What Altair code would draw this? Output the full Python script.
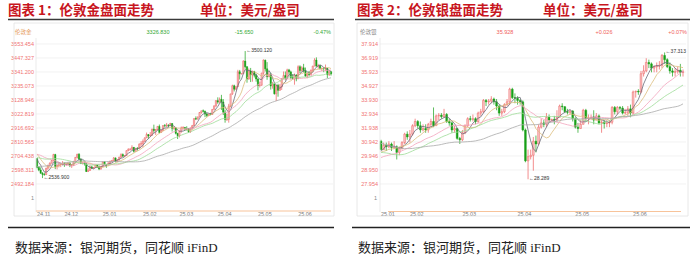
import altair as alt
import pandas as pd

W, H = 699, 263

# ------------------------------------------------------------------ data
# London gold, daily, 2024-11-11 .. 2025-06-26
gold_prior_close = [2513, 2512, 2484, 2512, 2518, 2525, 2504, 2521, 2503,
                    2500, 2493, 2495, 2516, 2497, 2506, 2516, 2512, 2558, 2578, 2582,
                    2569, 2559, 2587, 2622, 2629, 2657, 2657, 2672, 2658, 2634,
                    2663, 2658, 2656, 2653, 2644, 2622, 2608, 2630, 2657, 2649,
                    2662, 2674, 2693, 2721, 2719, 2749, 2714, 2736, 2747, 2742,
                    2774, 2788, 2744, 2736, 2736, 2742, 2659, 2706, 2685]
gold_open = [2685, 2618, 2598, 2573, 2565, 2563, 2612, 2631, 2650, 2670,
             2715, 2625, 2633, 2638, 2640, 2650, 2640, 2643, 2650, 2632,
             2633, 2660, 2694, 2718, 2680, 2648, 2652, 2646, 2587, 2595,
             2622, 2612, 2617, 2634, 2621, 2606, 2625, 2658, 2640, 2636,
             2648, 2662, 2670, 2690, 2663, 2677, 2696, 2715, 2703, 2708,
             2745, 2755, 2755, 2770, 2740, 2763, 2760, 2795, 2798, 2815,
             2842, 2867, 2856, 2861, 2908, 2898, 2905, 2929, 2883, 2898,
             2935, 2933, 2939, 2936, 2951, 2915, 2917, 2876, 2858, 2893,
             2918, 2920, 2911, 2910, 2889, 2917, 2934, 2988, 2984, 3001,
             3034, 3047, 3044, 3022, 3011, 3020, 3019, 3058, 3085, 3124,
             3113, 3134, 3114, 3037, 2982, 2982, 3083, 3175, 3237, 3211,
             3230, 3343, 3327, 3327, 3424, 3381, 3288, 3349, 3319, 3344,
             3317, 3288, 3239, 3241, 3333, 3431, 3365, 3306, 3325, 3236,
             3249, 3176, 3240, 3202, 3229, 3289, 3314, 3295, 3357, 3342,
             3300, 3289, 3317, 3289, 3381, 3353, 3373, 3352, 3310, 3326,
             3323, 3354, 3386, 3432, 3385, 3388, 3369, 3370, 3368, 3369,
             3322, 3342.48]
gold_close = [2618, 2598, 2573, 2565, 2563, 2612, 2631, 2650, 2670, 2715,
              2625, 2633, 2638, 2640, 2650, 2640, 2643, 2650, 2632, 2633,
              2660, 2694, 2718, 2680, 2648, 2652, 2646, 2587, 2595, 2622,
              2612, 2617, 2634, 2621, 2606, 2625, 2658, 2640, 2636, 2648,
              2662, 2670, 2690, 2663, 2677, 2696, 2715, 2703, 2708, 2745,
              2755, 2755, 2770, 2740, 2763, 2760, 2795, 2798, 2815, 2842,
              2867, 2856, 2861, 2908, 2898, 2905, 2929, 2883, 2898, 2935,
              2933, 2939, 2936, 2951, 2915, 2917, 2876, 2858, 2893, 2918,
              2920, 2911, 2910, 2889, 2917, 2934, 2988, 2984, 3001, 3034,
              3047, 3044, 3022, 3011, 3020, 3019, 3058, 3085, 3124, 3113,
              3134, 3114, 3037, 2982, 2983, 3083, 3175, 3237, 3211, 3230,
              3343, 3327, 3327, 3424, 3381, 3288, 3349, 3319, 3344, 3317,
              3288, 3239, 3241, 3333, 3431, 3365, 3306, 3325, 3236, 3249,
              3176, 3240, 3202, 3229, 3289, 3314, 3295, 3357, 3342, 3300,
              3289, 3317, 3289, 3381, 3353, 3373, 3352, 3310, 3326, 3323,
              3354, 3386, 3432, 3385, 3388, 3369, 3370, 3368, 3369, 3322,
              3342.48, 3326.83]
gold_high = [2686, 2626, 2618, 2582, 2578, 2615, 2639, 2656, 2673, 2721,
             2721, 2639, 2658, 2649, 2666, 2655, 2650, 2658, 2657, 2644,
             2668, 2697, 2721, 2726, 2687, 2660, 2656, 2653, 2611, 2632,
             2630, 2620, 2638, 2640, 2633, 2629, 2664, 2665, 2644, 2661,
             2671, 2675, 2696, 2692, 2679, 2698, 2725, 2724, 2711, 2746,
             2763, 2764, 2786, 2772, 2765, 2771, 2800, 2817, 2830, 2845,
             2882, 2870, 2886, 2911, 2942, 2909, 2931, 2943, 2904, 2938,
             2947, 2955, 2944, 2956, 2953, 2926, 2921, 2880, 2898, 2928,
             2930, 2925, 2930, 2915, 2920, 2940, 2990, 3005, 3002, 3038,
             3048, 3057, 3048, 3033, 3027, 3032, 3059, 3087, 3128, 3149,
             3148, 3168, 3136, 3055, 3023, 3100, 3176, 3245, 3245, 3232,
             3358, 3357, 3331, 3430, 3500.12, 3386, 3368, 3372, 3352, 3350,
             3328, 3293, 3268, 3335, 3437, 3435, 3416, 3347, 3332, 3266,
             3256, 3245, 3252, 3250, 3295, 3345, 3345, 3366, 3365, 3351,
             3325, 3330, 3325, 3392, 3392, 3385, 3403, 3375, 3338, 3349,
             3360, 3388, 3446, 3452, 3403, 3399, 3371, 3375, 3398, 3369,
             3350, 3350]
gold_low = [2610, 2589, 2572, 2536.9, 2555, 2560, 2600, 2623, 2648, 2662,
            2605, 2603, 2618, 2620, 2635, 2622, 2630, 2634, 2620, 2614,
            2630, 2658, 2687, 2678, 2643, 2640, 2632, 2583, 2583, 2592,
            2606, 2608, 2614, 2616, 2597, 2600, 2623, 2636, 2615, 2631,
            2644, 2657, 2665, 2656, 2659, 2668, 2690, 2699, 2698, 2705,
            2741, 2745, 2752, 2731, 2739, 2745, 2758, 2774, 2771, 2813,
            2840, 2834, 2853, 2860, 2880, 2864, 2902, 2876, 2880, 2893,
            2921, 2923, 2919, 2930, 2890, 2904, 2868, 2833, 2845, 2880,
            2908, 2894, 2897, 2880, 2880, 2906, 2930, 2977, 2982, 2998,
            3025, 3034, 2999, 3001, 3010, 3013, 3018, 3055, 3076, 3100,
            3105, 3054, 3015, 2957, 2970, 2957, 3073, 3168, 3194, 3205,
            3229, 3284, 3324, 3326, 3367, 3260, 3283, 3265, 3268, 3300,
            3268, 3202, 3224, 3238, 3320, 3345, 3282, 3302, 3208, 3215,
            3170, 3121, 3154, 3200, 3205, 3286, 3278, 3287, 3320, 3285,
            3286, 3245, 3271, 3289, 3333, 3343, 3338, 3307, 3293, 3310,
            3316, 3339, 3385, 3384, 3366, 3362, 3348, 3340, 3347, 3295,
            3311, 3314]
gold_ext_idx = [114, 3]
gold_ext_val = [3500.12, 2536.9]
gold_ytick_labels = ["3553.454", "3447.327", "3341.200", "3235.073", "3128.946", "3022.819",
                     "2916.692", "2810.565", "2704.438", "2598.311", "2492.184"]
gold_month_idx = [0, 15, 36, 58, 78, 99, 121, 143]
gold_month_labels = ["24.11", "24.12", "25.01", "25.02", "25.03", "25.04", "25.05", "25.06"]
gold_header = ["伦敦金", "3326.830", "-15.650", "-0.47%"]

# London silver, daily, 2025-01-17 .. 2025-06-27
silver_prior_close = [34.6, 33.7, 33.7, 33.7, 33.7, 33.9, 33.6, 32.7,
                      32.5, 32.4, 32.6, 31.2, 31.6, 31.3, 30.6, 30.6, 30.2, 30.3, 30.2,
                      31.0, 31.2, 31.1, 31.1, 31.3, 30.4, 30.3, 30.0, 30.2, 30.6,
                      30.4, 30.9, 31.3, 31.3, 31.2, 31.8, 32.0, 31.6, 30.7, 30.4, 30.6,
                      30.5, 29.4, 29.1, 29.6, 29.8, 29.7, 29.7, 29.4, 28.8, 28.9,
                      29.9, 29.6, 30.0, 30.1, 29.9, 30.3, 30.4, 29.7, 29.7, 30.6, 31.0]
silver_open = [31.00, 30.40, 30.70, 30.60, 30.80, 30.55, 30.60, 30.20, 30.50, 30.90,
               31.50, 31.30, 31.50, 32.10, 32.40, 32.10, 31.80, 31.90, 31.80, 32.20,
               32.40, 32.10, 32.80, 32.85, 32.75, 32.90, 32.40, 32.30, 31.80, 31.90,
               31.20, 31.10, 31.60, 32.10, 32.60, 32.55, 32.60, 32.40, 33.00, 33.10,
               33.90, 33.80, 33.85, 34.00, 33.80, 33.50, 33.00, 33.10, 33.60, 33.80,
               34.70, 34.10, 34.05, 33.90, 33.80, 31.80, 29.60, 29.90, 30.00, 31.00,
               30.80, 32.00, 32.30, 32.20, 32.70, 32.50, 32.55, 32.50, 32.70, 33.50,
               33.45, 33.10, 33.05, 33.15, 32.60, 32.00, 31.90, 32.20, 33.20, 32.60,
               32.65, 32.70, 32.50, 32.80, 32.30, 32.35, 32.25, 32.30, 32.35, 33.40,
               33.10, 33.40, 33.35, 33.00, 33.05, 33.30, 33.00, 34.50, 34.55, 34.50,
               35.80, 36.00, 36.60, 36.50, 36.20, 36.30, 36.35, 36.40, 37.10, 36.80,
               36.30, 36.00, 35.90, 35.95, 36.05, 35.90]
silver_close = [30.40, 30.70, 30.60, 30.80, 30.55, 30.60, 30.20, 30.50, 30.90, 31.50,
                31.30, 31.50, 32.10, 32.40, 32.10, 31.80, 31.90, 31.80, 32.20, 32.40,
                32.10, 32.80, 32.85, 32.75, 32.90, 32.40, 32.30, 31.80, 31.90, 31.20,
                31.10, 31.60, 32.10, 32.60, 32.55, 32.60, 32.40, 33.00, 33.10, 33.90,
                33.80, 33.85, 34.00, 33.80, 33.50, 33.00, 33.10, 33.60, 33.80, 34.70,
                34.10, 34.05, 33.90, 33.80, 31.80, 29.60, 29.90, 30.00, 31.00, 30.80,
                32.00, 32.30, 32.20, 32.70, 32.50, 32.55, 32.50, 32.70, 33.50, 33.45,
                33.10, 33.05, 33.15, 32.60, 32.00, 31.90, 32.20, 33.20, 32.60, 32.65,
                32.70, 32.50, 32.80, 32.30, 32.35, 32.25, 32.30, 32.35, 33.40, 33.10,
                33.40, 33.35, 33.00, 33.05, 33.30, 33.00, 34.50, 34.55, 34.50, 35.80,
                36.00, 36.60, 36.50, 36.20, 36.30, 36.35, 36.40, 37.10, 36.80, 36.30,
                36.00, 35.90, 35.95, 36.05, 35.90, 35.93]
silver_high = [31.10, 30.90, 30.90, 31.00, 30.90, 31.00, 30.70, 30.60, 31.00, 31.60,
               31.70, 31.80, 32.20, 32.60, 32.50, 32.40, 32.20, 32.20, 32.30, 32.60,
               33.40, 32.90, 33.00, 33.00, 33.30, 33.00, 32.60, 32.40, 32.10, 31.95,
               31.30, 31.80, 32.20, 32.70, 32.80, 32.90, 32.70, 33.10, 33.30, 34.00,
               34.00, 34.00, 34.20, 34.10, 34.00, 33.60, 33.30, 33.70, 34.00, 34.80,
               34.80, 34.40, 34.20, 34.00, 33.90, 31.90, 30.40, 30.40, 31.30, 31.40,
               32.20, 32.60, 32.50, 33.00, 32.90, 32.60, 32.80, 33.20, 33.60, 33.70,
               33.50, 33.30, 33.20, 33.20, 32.70, 32.30, 32.50, 33.30, 33.30, 32.90,
               32.90, 33.20, 33.00, 32.90, 32.50, 32.50, 32.50, 32.50, 33.50, 33.50,
               33.50, 33.50, 33.50, 33.30, 33.50, 33.60, 34.60, 34.60, 34.70, 36.00,
               36.40, 36.90, 36.80, 36.60, 36.40, 36.60, 36.70, 37.20, 37.313, 36.90,
               36.60, 36.20, 36.20, 36.30, 36.50, 36.10]
silver_low = [30.35, 30.38, 30.30, 30.50, 30.30, 30.45, 29.70, 30.00, 30.40, 30.80,
              31.10, 30.90, 31.40, 32.00, 31.90, 31.60, 31.70, 31.60, 31.60, 32.00,
              32.00, 32.10, 32.50, 32.60, 32.70, 32.30, 32.10, 31.60, 31.60, 31.10,
              30.80, 31.00, 31.50, 32.00, 32.40, 32.40, 32.20, 32.30, 32.80, 33.00,
              33.50, 33.60, 33.70, 33.60, 33.20, 32.80, 32.80, 33.00, 33.50, 33.60,
              34.00, 33.70, 33.60, 33.60, 31.70, 29.50, 28.289, 29.70, 28.90, 30.20,
              30.70, 31.90, 32.00, 32.00, 32.30, 32.40, 32.20, 32.40, 32.70, 33.20,
              33.00, 32.90, 32.90, 32.40, 31.90, 31.60, 31.90, 32.20, 32.40, 32.20,
              32.50, 32.20, 32.50, 32.20, 31.60, 31.90, 32.00, 32.00, 32.20, 32.90,
              32.90, 33.20, 32.90, 32.90, 32.80, 32.70, 32.90, 34.10, 34.30, 34.40,
              35.60, 35.90, 36.20, 35.90, 35.90, 35.90, 36.10, 36.20, 36.50, 36.20,
              35.80, 35.60, 35.60, 35.80, 35.60, 35.60]
silver_ext_idx = [108, 56]
silver_ext_val = [37.313, 28.289]
silver_ytick_labels = ["37.914", "36.919", "35.923", "34.927", "33.930", "32.934",
                       "31.938", "30.942", "29.946", "28.950", "27.954"]
silver_month_idx = [0, 11, 31, 52, 74, 96]
silver_month_labels = ["25.01", "25.02", "25.03", "25.04", "25.05", "25.06"]
silver_header = ["伦敦银", "35.928", "+0.026", "+0.07%"]

ma_names = ["MA5", "MA10", "MA20", "MA30", "MA60"]
ma_windows = [5, 10, 20, 30, 60]

# ------------------------------------------------------------------ style
MA_COLORS = ["#6b6b78", "#dcbc7c", "#f3a3bd", "#9edc98", "#a9a9a9"]
MA_WIDTHS = [0.8, 0.8, 0.8, 0.8, 1.1]
UP_FILL, UP_LINE, DOWN = "#f9c4c4", "#ee5b5b", "#18a018"
SMALL = "Liberation Sans"
CJK = "Noto Sans CJK SC"
RED = "#c8161e"
ONE = alt.Data(values=[{}])


def frame(prior, o, h, l, c):
    n = len(prior)
    a = pd.DataFrame({"idx": list(range(-n, 0)), "close": prior})
    b = pd.DataFrame({"idx": list(range(len(c))), "open": o, "high": h, "low": l, "close": c})
    return pd.concat([a, b], ignore_index=True)


def xscale(i0, p0, i1, p1):
    s = (p1 - p0) / (i1 - i0)
    return alt.Scale(domain=[i0 - p0 / s, i0 + (W - p0) / s], range=[0, W],
                     nice=False, zero=False, padding=0)


def yscale(v_top, y_top, v_bot, y_bot):
    s = (y_bot - y_top) / (v_top - v_bot)
    return alt.Scale(domain=[v_bot - (H - y_bot) / s, v_top + y_top / s], range=[H, 0],
                     nice=False, zero=False, padding=0)


def txt(s, x, y, size=5.5, color="#666", align="left", weight="normal", font=SMALL):
    return alt.Chart(ONE).mark_text(text=s, x=x, y=y, fontSize=size, color=color, align=align,
                                    baseline="middle", fontWeight=weight, font=font)


def hline(x0, x1, y, color, width=1.0):
    return alt.Chart(ONE).mark_rule(color=color, strokeWidth=width).encode(
        x=alt.value(x0), x2=alt.value(x1), y=alt.value(y))


def vline(x, y0, y1, color, width=1.0):
    return alt.Chart(ONE).mark_rule(color=color, strokeWidth=width).encode(
        x=alt.value(x), y=alt.value(y0), y2=alt.value(y1))


def box(x0, x1, y0, y1, color):
    return alt.Chart(ONE).mark_rect(fill="transparent", stroke=color, strokeWidth=0.8).encode(
        x=alt.value(x0), x2=alt.value(x1), y=alt.value(y0), y2=alt.value(y1))


def panel(df, xs, ys, tick_labels, month_idx, month_labels, ext_idx, ext_val,
          grid_x0, grid_x1, lab_x, bar_w):
    X = alt.X("idx:Q", scale=xs, axis=None)
    up = "datum.close >= datum.open"
    ticks = pd.DataFrame({"v": [float(t) for t in tick_labels], "lab": tick_labels})
    grid = alt.Chart(ticks).mark_rule(color="#ededed", strokeWidth=0.7).encode(
        y=alt.Y("v:Q", scale=ys, axis=None), x=alt.value(grid_x0), x2=alt.value(grid_x1))
    ylab = alt.Chart(ticks).mark_text(align="right", baseline="middle", fontSize=5.5,
                                      color="#f07272", font=SMALL).encode(
        y=alt.Y("v:Q", scale=ys, axis=None), x=alt.value(lab_x), text="lab:N")
    months = pd.DataFrame({"idx": month_idx, "lab": month_labels})
    xlab = alt.Chart(months).mark_text(align="left", baseline="middle", y=214, fontSize=5.5,
                                       color="#777777", font=SMALL).encode(x=X, text="lab:N")
    vis = alt.Chart(df).transform_filter("datum.idx >= 0")
    wick = vis.mark_rule(strokeWidth=0.7).encode(
        x=X, y=alt.Y("low:Q", scale=ys, axis=None), y2="high:Q",
        color=alt.condition(up, alt.value(UP_LINE), alt.value(DOWN)))
    body = vis.mark_bar(size=bar_w, strokeWidth=0.45).encode(
        x=X, y=alt.Y("open:Q", scale=ys, axis=None), y2="close:Q",
        fill=alt.condition(up, alt.value(UP_FILL), alt.value(DOWN)),
        stroke=alt.condition(up, alt.value(UP_LINE), alt.value(DOWN)))
    ma = alt.Chart(df)
    for name, n in zip(ma_names, ma_windows):
        ma = ma.transform_window(**{name: "mean(close)"}, frame=[-(n - 1), 0],
                                 sort=[alt.SortField("idx", order="ascending")])
    ma = ma.transform_filter("datum.idx >= 0").transform_fold(
        ma_names, as_=["ma", "val"]).mark_line(interpolate="linear").encode(
        x=X, y=alt.Y("val:Q", scale=ys, axis=None),
        color=alt.Color("ma:N", scale=alt.Scale(domain=ma_names, range=MA_COLORS), legend=None),
        strokeWidth=alt.StrokeWidth("ma:N", scale=alt.Scale(domain=ma_names, range=MA_WIDTHS),
                                    legend=None))
    ext = alt.Chart(pd.DataFrame({"idx": ext_idx, "v": ext_val})).transform_calculate(
        lab="'\u2190' + format(datum.v, '.3f')").mark_text(
        align="left", baseline="middle", dx=1, dy=-1, fontSize=5, color="#333333",
        font=SMALL).encode(x=X, y=alt.Y("v:Q", scale=ys, axis=None), text="lab:N")
    return alt.layer(grid, ylab, xlab, wick, body, ma, ext)


gold_df = frame(gold_prior_close, gold_open, gold_high, gold_low, gold_close)
silver_df = frame(silver_prior_close, silver_open, silver_high, silver_low, silver_close)

gxs = xscale(0, 37, len(gold_close) - 1, 331)
gys = yscale(float(gold_ytick_labels[0]), 44, float(gold_ytick_labels[-1]), 184)
sxs = xscale(0, 381, len(silver_close) - 1, 683)
sys_ = yscale(float(silver_ytick_labels[0]), 44, float(silver_ytick_labels[-1]), 184)

gold_panel = panel(gold_df, gxs, gys, gold_ytick_labels, gold_month_idx, gold_month_labels,
                   gold_ext_idx, gold_ext_val, 36, 333, 34, 1.3)
silver_panel = panel(silver_df, sxs, sys_, silver_ytick_labels, silver_month_idx,
                     silver_month_labels, silver_ext_idx, silver_ext_val, 380, 686, 378, 1.8)

GREEN_TXT, RED_TXT = "#33a833", "#f0605a"
decor = [
    # frames
    box(14, 334, 23, 216, "#e2e2e2"),
    box(357, 688, 23, 216, "#e2e2e2"),
    vline(36, 38, 212, "#e6e6e6", 0.8),
    vline(380, 38, 212, "#e6e6e6", 0.8),
    hline(36, 331, 211, "#f7c39a", 1.0),
    hline(388, 681, 211.5, "#f7c39a", 1.0),
    txt("1", 34, 198, color="#888888", align="right"),
    txt("1", 377, 198, color="#888888", align="right"),
    # titles
    txt("图表 1：伦敦金盘面走势", 8, 11, size=13.5, color=RED, weight="bold", font=CJK),
    txt("单位：美元/盎司", 200, 11, size=13.5, color=RED, weight="bold", font=CJK),
    txt("图表 2：伦敦银盘面走势", 357, 11, size=13.5, color=RED, weight="bold", font=CJK),
    txt("单位：美元/盎司", 543, 11, size=13.5, color=RED, weight="bold", font=CJK),
    hline(8, 334, 19.5, "#3a3a3a", 1.5),
    hline(355, 690, 19.5, "#3a3a3a", 1.5),
    # header rows
    txt(gold_header[0], 15, 32, size=5.5, color="#e59a5c", font=CJK),
    txt(gold_header[1], 158, 32, size=5.5, color=GREEN_TXT, align="center"),
    txt(gold_header[2], 244, 32, size=5.5, color=GREEN_TXT, align="center"),
    txt(gold_header[3], 331, 32, size=5.5, color=GREEN_TXT, align="right"),
    txt(silver_header[0], 360, 32, size=5.5, color="#8a8a8a", font=CJK),
    txt(silver_header[1], 505, 32, size=5.5, color=RED_TXT, align="center"),
    txt(silver_header[2], 604, 32, size=5.5, color=RED_TXT, align="center"),
    txt(silver_header[3], 687, 32, size=5.5, color=RED_TXT, align="right"),
    # footer
    hline(8, 334, 227.5, "#222222", 1.3),
    hline(352, 690, 227.5, "#222222", 1.3),
    txt("数据来源：银河期货，同花顺 iFinD", 15, 248, size=13, color="#222222",
        font="'Liberation Serif', 'Noto Sans CJK SC'"),
    txt("数据来源：银河期货，同花顺 iFinD", 358, 248, size=13, color="#222222",
        font="'Liberation Serif', 'Noto Sans CJK SC'"),
]

chart = alt.layer(gold_panel, silver_panel, *decor).resolve_scale(
    x="independent", y="independent", color="independent", strokeWidth="independent"
).properties(
    width=W, height=H, padding=0, background="white",
    autosize=alt.AutoSizeParams(type="none"),
).configure_view(stroke=None)

chart.save("out.html", embed_options={"renderer": "svg", "actions": False})
